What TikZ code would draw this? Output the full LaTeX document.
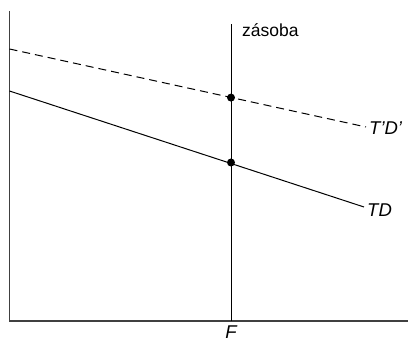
\documentclass[tikz,border=0pt]{standalone}
\usepackage{fontspec}
\setmainfont{Liberation Sans}
\begin{document}
\begin{tikzpicture}[x=1pt,y=-1pt,
  axis/.style={line width=1.3pt,draw=black!75},
  curve/.style={line width=1pt},
  dot/.style={circle,fill=black,inner sep=0pt,minimum size=8pt},
  lbl/.style={font=\fontsize{18.5}{20}\selectfont\itshape,inner sep=1pt}]
\useasboundingbox (0,0) rectangle (408,344);
\coordinate (top) at (9.5,11);
\coordinate (O) at (9.5,321);
\coordinate (xend) at (408,321);
\draw[axis] (top) -- (O) -- (xend);
\coordinate (vb) at (231,321);
\coordinate (vt) at (231,24);
\draw[curve] (vb) -- (vt);
\node[anchor=base west,font=\fontsize{17.5}{20}\selectfont,inner sep=1pt] (zas) at (241,37) {zásoba};
\coordinate (d0) at (9.5,49);
\coordinate (d1) at (366,127);
\draw[curve,dashed,dash pattern=on 8pt off 5pt] (d0) -- (d1);
\coordinate (s0) at (9.5,91);
\coordinate (s1) at (364,207);
\draw[curve] (s0) -- (s1);
\node[dot] (p1) at (231,97.6) {};
\node[dot] (p2) at (231,162.5) {};
\node[lbl,anchor=west] (tdp) at (368,128) {T'D'};
\node[lbl,anchor=west] (td) at (366,210) {TD};
\node[lbl,anchor=north] (F) at (231,325) {F};
\end{tikzpicture}
\end{document}
